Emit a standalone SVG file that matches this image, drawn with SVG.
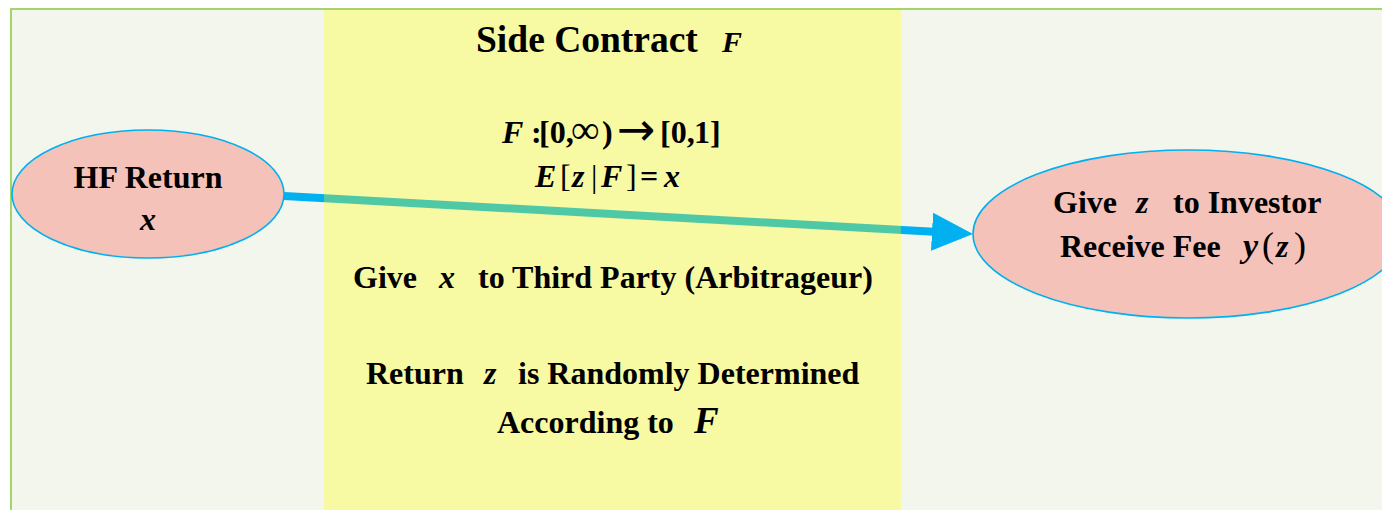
<svg xmlns="http://www.w3.org/2000/svg" width="1382" height="510" viewBox="0 0 1382 510">
<style>
.t{font-family:"Liberation Serif","Times New Roman",serif;font-weight:bold;fill:#000}
.i{font-style:italic}
.node{fill:#f5c2b9;stroke:#00b0f0;stroke-width:1.6}
.conn{stroke:#00b0f0;stroke-width:8;fill:none}
</style>
<defs>
<marker id="ah" markerUnits="userSpaceOnUse" markerWidth="42" markerHeight="40" refX="2" refY="19" orient="auto">
<path d="M0,0 L41,19 L0,38 z" fill="#00b0f0"/>
</marker>
</defs>
<rect x="0" y="0" width="1382" height="510" fill="#ffffff"/>
<rect x="11" y="9" width="1400" height="520" fill="#f3f6ed" stroke="#a5d46a" stroke-width="2"/>
<g id="connectors">
<line class="conn" x1="284" y1="196" x2="934" y2="231.8" marker-end="url(#ah)"/>
</g>
<g id="side-contract">
<rect x="324" y="10" width="577" height="500" fill="#ffff00" fill-opacity="0.31"/>
<text class="t" font-size="37.5" x="476" y="52">Side Contract</text>
<text class="t i" font-size="30" x="722" y="52">F</text>
<text class="t" font-size="32" y="143"><tspan class="i" x="502">F</tspan><tspan x="531">:</tspan><tspan x="539">[0,</tspan><tspan x="571" font-weight="normal" font-size="40">∞</tspan><tspan x="602">)</tspan><tspan x="617" font-family="DejaVu Sans" font-size="46" font-weight="normal" dy="2">→</tspan><tspan x="660" dy="-2">[0,</tspan><tspan x="694">1]</tspan></text>
<text class="t" font-size="32" y="187"><tspan class="i" x="535">E</tspan><tspan x="560" font-weight="normal">[</tspan><tspan class="i" x="572">z</tspan><tspan x="591" font-weight="normal">|</tspan><tspan class="i" x="601">F</tspan><tspan x="626" font-weight="normal">]</tspan><tspan x="640">=</tspan><tspan class="i" x="664">x</tspan></text>
<text class="t" font-size="32" y="288"><tspan x="353">Give</tspan><tspan class="i" x="439">x</tspan><tspan x="478">to Third Party (Arbitrageur)</tspan></text>
<text class="t" font-size="32" y="384"><tspan x="366">Return</tspan><tspan class="i" x="484">z</tspan><tspan x="518">is Randomly Determined</tspan></text>
<text class="t" font-size="32" y="433"><tspan x="497">According to</tspan><tspan class="i" x="694" font-size="37">F</tspan></text>
</g>
<g id="hf-return">
<ellipse class="node" cx="148" cy="194" rx="136" ry="64"/>
<text class="t" font-size="32" x="148" y="188" text-anchor="middle">HF Return</text>
<text class="t i" font-size="32" x="148" y="230" text-anchor="middle">x</text>
</g>
<g id="investor">
<ellipse class="node" cx="1188" cy="234" rx="215" ry="84"/>
<text class="t" font-size="32" y="213"><tspan x="1053">Give</tspan><tspan class="i" x="1136">z</tspan><tspan x="1173">to Investor</tspan></text>
<text class="t" font-size="32" y="257"><tspan x="1060">Receive Fee</tspan><tspan class="i" x="1243" font-size="34">y</tspan><tspan x="1262" font-weight="normal" font-size="36">(</tspan><tspan class="i" x="1276">z</tspan><tspan x="1294" font-weight="normal" font-size="36">)</tspan></text>
</g>
</svg>
